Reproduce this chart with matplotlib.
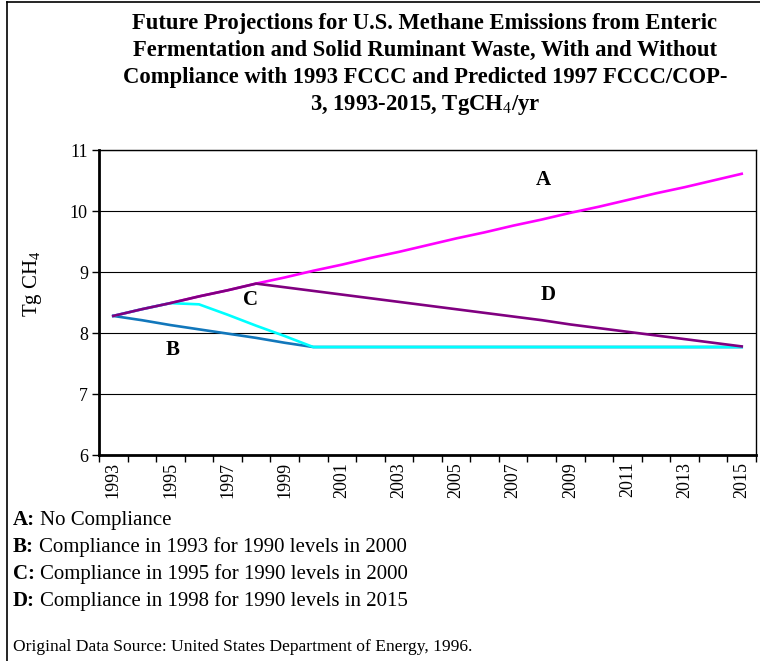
import numpy as np
import matplotlib
matplotlib.use("Agg")
import matplotlib.pyplot as plt
from matplotlib.lines import Line2D

plt.rcParams['font.family'] = ['Liberation Serif', 'DejaVu Serif']
plt.rcParams['mathtext.fontset'] = 'custom'
plt.rcParams['mathtext.rm'] = 'Liberation Serif'
plt.rcParams['mathtext.bf'] = 'Liberation Serif:bold'

years = list(range(1993, 2016))
series_a = [8.28, 8.39, 8.49, 8.60, 8.70, 8.81, 8.91, 9.02, 9.12, 9.23, 9.33, 9.44,
            9.55, 9.65, 9.76, 9.86, 9.97, 10.07, 10.18, 10.29, 10.39, 10.50, 10.61]
series_b = [8.28, 8.21, 8.13, 8.06, 7.99, 7.92, 7.84, 7.77, 7.77, 7.77, 7.77, 7.77,
            7.77, 7.77, 7.77, 7.77, 7.77, 7.77, 7.77, 7.77, 7.77, 7.77, 7.77]
series_c = [8.28, 8.39, 8.49, 8.47, 8.30, 8.12, 7.95, 7.77, 7.77, 7.77, 7.77, 7.77,
            7.77, 7.77, 7.77, 7.77, 7.77, 7.77, 7.77, 7.77, 7.77, 7.77, 7.77]
series_d = [8.28, 8.39, 8.49, 8.60, 8.70, 8.81, 8.75, 8.69, 8.63, 8.57, 8.51, 8.45,
            8.39, 8.33, 8.27, 8.21, 8.14, 8.08, 8.02, 7.96, 7.90, 7.84, 7.78]
y_ticks = [6, 7, 8, 9, 10, 11]

W, H = 760, 661
fig = plt.figure(figsize=(W / 100, H / 100), dpi=100)
ax = fig.add_axes([99 / W, (H - 455) / H, 657 / W, 305 / H])

x = np.arange(len(years))
ax.plot(x, series_a, color='#FF00FF', lw=1.9, zorder=3)
ax.plot(x, series_b, color='#1177BB', lw=1.9, zorder=4)
ax.plot(x, series_c, color='#00FFFF', lw=1.9, zorder=5)
ax.plot(x, series_d, color='#800080', lw=1.9, zorder=6)

ax.set_xlim(-0.5, len(years) - 0.5)
ax.set_ylim(6, 11)
ax.set_yticks(y_ticks)
ax.set_yticklabels([str(v) for v in y_ticks], fontsize=13)
ax.yaxis.grid(True, color='black', lw=0.8, zorder=1)
ax.tick_params(axis='y', direction='out', length=5, width=1, pad=3)

ax.set_xticks(x[::2])
ax.set_xticklabels([str(y) for y in years[::2]], rotation=90, fontsize=13)
ax.set_xticks(np.arange(-0.5, len(years), 1.0), minor=True)
ax.tick_params(axis='x', which='major', length=0, pad=5)
ax.tick_params(axis='x', which='minor', direction='out', length=5, width=1)

for s in ['left', 'bottom']:
    ax.spines[s].set_linewidth(2)
for s in ['top', 'right']:
    ax.spines[s].set_linewidth(1)

# curve labels
for lab, xp, yp in [('A', 15.07, 10.51), ('B', 2.08, 7.72), ('C', 4.82, 8.54), ('D', 15.24, 8.62)]:
    ax.text(xp, yp, lab, fontsize=15, fontweight='bold', ha='center', va='center', zorder=7)

fig.text(32 / W, 1 - 284 / H, r'Tg CH$_4$', rotation=90, fontsize=15,
         ha='center', va='center')

# title
title_lines = [
    'Future Projections for U.S. Methane Emissions from Enteric',
    'Fermentation and Solid Ruminant Waste, With and Without',
    'Compliance with 1993 FCCC and Predicted 1997 FCCC/COP-',
    r'3, 1993-2015, TgCH$_4$/yr',
]
for line, yb in zip(title_lines, [29, 56, 83, 110]):
    fig.text(425 / W, 1 - yb / H, line, fontsize=16.3, fontweight='bold',
             ha='center', va='baseline')

# legend notes
notes = [('A:', 'No Compliance'),
         ('B:', 'Compliance in 1993 for 1990 levels in 2000'),
         ('C:', 'Compliance in 1995 for 1990 levels in 2000'),
         ('D:', 'Compliance in 1998 for 1990 levels in 2015')]
for (b, rest), yb in zip(notes, [525, 552, 579, 606]):
    t = fig.text(13 / W, 1 - yb / H, b, fontsize=15, fontweight='bold',
                 ha='left', va='baseline')
    plt.annotate(rest, xy=(1, 0), xycoords=t, xytext=(3.5, 0),
                 textcoords='offset points', fontsize=15,
                 ha='left', va='bottom', annotation_clip=False)

fig.text(13 / W, 1 - 651 / H,
         'Original Data Source: United States Department of Energy, 1996.',
         fontsize=12.6, ha='left', va='baseline')

# outer frame (top and left)
fig.add_artist(Line2D([7 / W, 1], [1 - 1.5 / H, 1 - 1.5 / H], color='black', lw=1.2,
                      transform=fig.transFigure))
fig.add_artist(Line2D([7 / W, 7 / W], [0, 1 - 1.5 / H], color='black', lw=1.2,
                      transform=fig.transFigure))

fig.savefig('out.png', dpi=100)
